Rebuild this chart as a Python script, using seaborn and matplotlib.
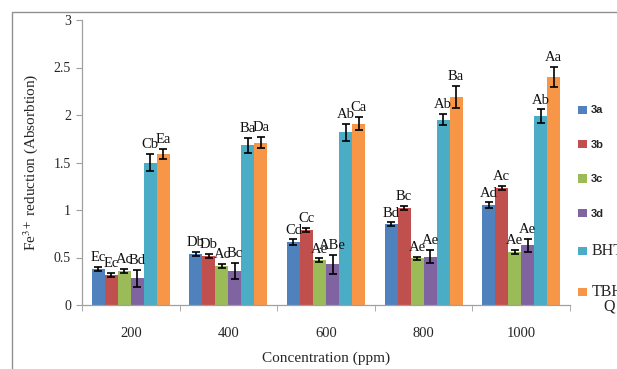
import matplotlib
matplotlib.use("Agg")
import matplotlib.pyplot as plt
from matplotlib.patches import Rectangle, Patch
import seaborn as sns
import pandas as pd

# ---- data ----
concentrations = ["200", "400", "600", "800", "1000"]
series = ["3a", "3b", "3c", "3d", "BHT", "TBHQ"]
v3a = [0.38, 0.54, 0.66, 0.85, 1.05]
v3b = [0.32, 0.515, 0.79, 1.02, 1.23]
v3c = [0.36, 0.41, 0.47, 0.49, 0.56]
v3d = [0.28, 0.36, 0.43, 0.51, 0.63]
vbht = [1.50, 1.68, 1.82, 1.95, 1.99]
vtbhq = [1.59, 1.71, 1.91, 2.19, 2.40]
e3a = [0.02, 0.02, 0.03, 0.02, 0.03]
e3b = [0.02, 0.02, 0.02, 0.02, 0.02]
e3c = [0.02, 0.02, 0.02, 0.02, 0.02]
e3d = [0.09, 0.085, 0.10, 0.07, 0.07]
ebht = [0.09, 0.08, 0.09, 0.06, 0.07]
etbhq = [0.05, 0.06, 0.07, 0.12, 0.11]
l3a = ["Ec", "Db", "Cd", "Bd", "Ad"]
l3b = ["Ec", "Db", "Cc", "Bc", "Ac"]
l3c = ["Ac", "Ac", "Ae", "Ae", "Ae"]
l3d = ["Bd", "Bc", "ABe", "Ae", "Ae"]
lbht = ["Cb", "Ba", "Ab", "Ab", "Ab"]
ltbhq = ["Ea", "Da", "Ca", "Ba", "Aa"]
yticks = [0, 0.5, 1, 1.5, 2, 2.5, 3]
ytick_labels = ["0", "0.5", "1", "1.5", "2", "2.5", "3"]

values = [v3a, v3b, v3c, v3d, vbht, vtbhq]
errors = [e3a, e3b, e3c, e3d, ebht, etbhq]
letters = [l3a, l3b, l3c, l3d, lbht, ltbhq]
colors = ["#4F81BD", "#C0504D", "#9BBB59", "#8064A2", "#4BACC6", "#F79646"]
# the last legend entry wraps in the original: "TBH" / "Q"
legend_labels = ["3a", "3b", "3c", "3d", "BHT", "TBH"]
legend_wrap = "Q"

rows = []
for s, vals in zip(series, values):
    for c, v in zip(concentrations, vals):
        rows.append({"Concentration": c, "Series": s, "Value": v})
df = pd.DataFrame(rows)

sns.set_style("white")
plt.rcParams["font.family"] = ["Liberation Serif", "DejaVu Serif"]
plt.rcParams["mathtext.fontset"] = "stix"

fig = plt.figure(figsize=(6.17, 3.69), dpi=100)
ax = fig.add_axes([82 / 617, 1 - 305 / 369, 488 / 617, 285 / 369])

sns.barplot(data=df, x="Concentration", y="Value", hue="Series",
            order=concentrations, hue_order=series,
            palette=colors, saturation=1, errorbar=None, width=0.8,
            linewidth=0, ax=ax)

for cont, errs, labs in zip(ax.containers, errors, letters):
    for bar, e, lab in zip(cont, errs, labs):
        xc = bar.get_x() + bar.get_width() / 2
        h = bar.get_height()
        ax.errorbar(xc, h, yerr=e, fmt="none", ecolor="black",
                    elinewidth=1.2, capsize=3.2, capthick=1.2, zorder=5)
        ax.annotate(lab, (xc, h + e), xytext=(0, 2), textcoords="offset points",
                    ha="center", va="bottom", fontsize=10.5, color="#111111")

if ax.get_legend() is not None:
    ax.get_legend().remove()

ax.set_ylim(0, 3)
ax.set_xlim(-0.5, 4.5)
ax.set_yticks(yticks)
ax.set_yticklabels(ytick_labels, fontsize=10)
ax.set_xticks(range(len(concentrations)))
ax.set_xticklabels(concentrations, fontsize=10.5)
ax.set_xticks([i - 0.5 for i in range(len(concentrations) + 1)], minor=True)
ax.tick_params(axis="x", which="major", length=0, pad=16)
ax.tick_params(axis="x", which="minor", length=4, color="#A0A0A0", direction="out", bottom=True)
ax.tick_params(axis="y", length=4, color="#A0A0A0", direction="out", left=True, pad=4)
for side in ["top", "right"]:
    ax.spines[side].set_visible(False)
for side in ["left", "bottom"]:
    ax.spines[side].set_color("#A0A0A0")
    ax.spines[side].set_linewidth(0.9)

ax.set_xlabel("Concentration (ppm)", fontsize=11, labelpad=8)
ax.set_ylabel(r"Fe$^{3+}$ reduction (Absorbtion)", fontsize=11, labelpad=10)

handles = [Patch(facecolor=c, edgecolor="none") for c in colors]
leg = fig.legend(handles, legend_labels, loc="upper left",
                 bbox_to_anchor=(574 / 617, 1 - 101 / 369), frameon=False,
                 prop={"family": "Liberation Sans", "weight": "bold", "size": 8},
                 labelspacing=2.2, handlelength=0.75, handleheight=0.75,
                 handletextpad=0.4, borderaxespad=0)
for t in leg.get_texts()[4:]:
    t.set_fontfamily("Liberation Serif")
    t.set_fontweight("normal")
    t.set_fontsize(11.5)

fig.canvas.draw()
fig.text(0, 0, legend_wrap, fontsize=11.5, ha="center", va="top",
         transform=matplotlib.transforms.offset_copy(
             leg.get_texts()[5].get_transform(), fig=fig, x=0, y=0, units="points"),
         visible=False)
ax.annotate(legend_wrap, xy=(0.55, 0), xycoords=leg.get_texts()[5],
            xytext=(0, 1), textcoords="offset points",
            ha="center", va="top", fontsize=11.5, annotation_clip=False)

fig.patches.append(Rectangle((12 / 617, -0.1), 1.2, 1 - 12 / 369 + 0.1,
                             transform=fig.transFigure, fill=False,
                             edgecolor="#909090", linewidth=1.0))

fig.savefig("out.png", dpi=100)
